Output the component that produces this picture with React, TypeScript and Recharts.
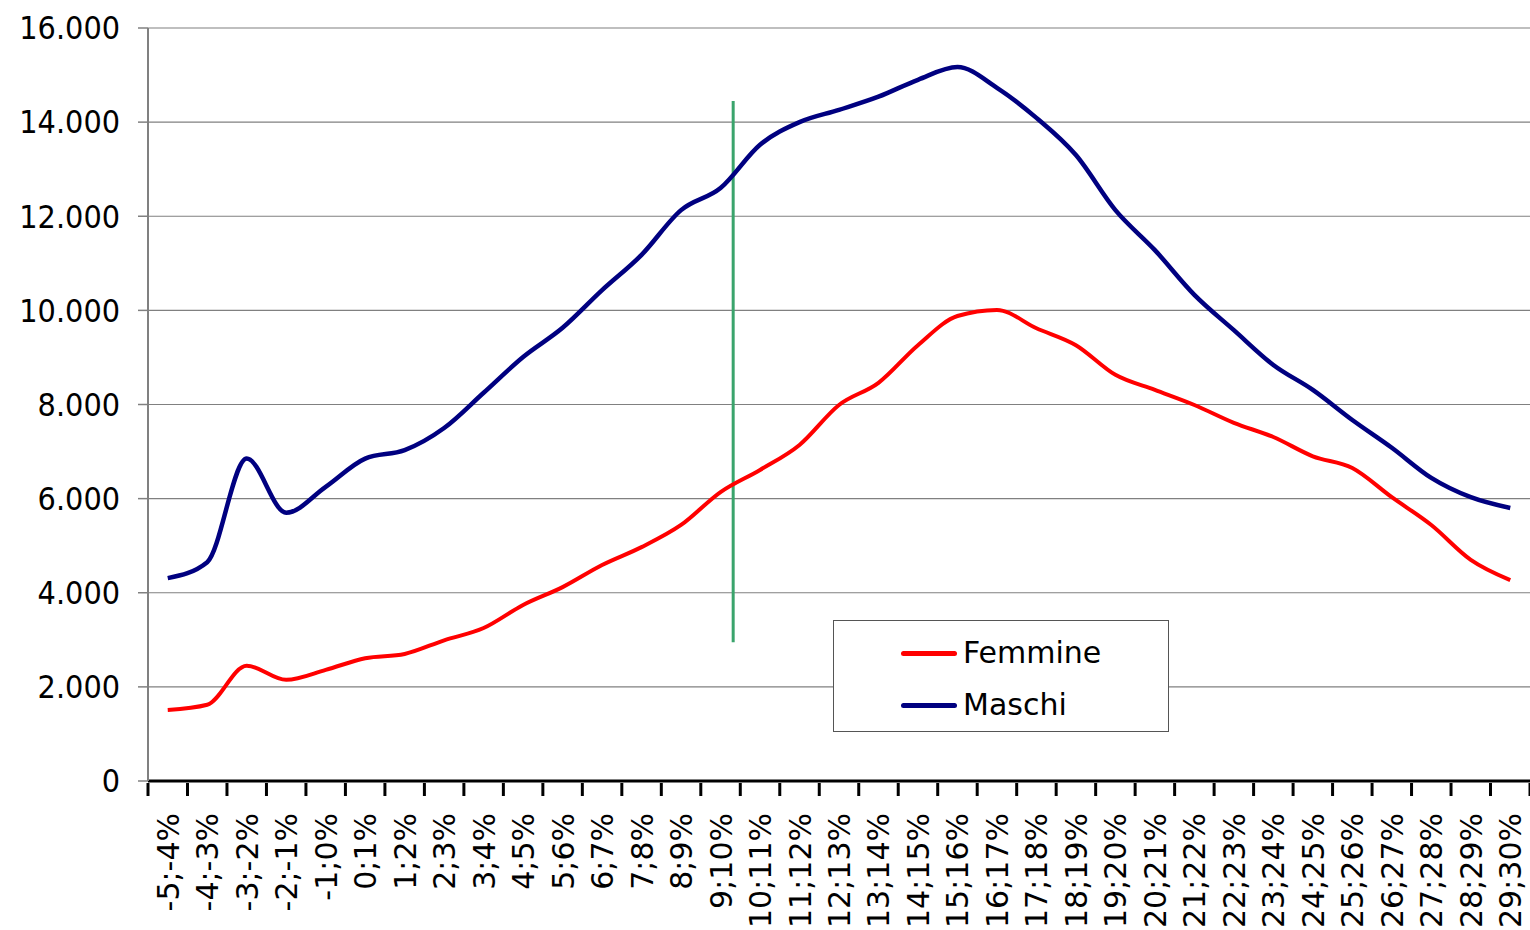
import {
  CartesianGrid,
  Legend,
  Line,
  LineChart,
  ReferenceLine,
  XAxis,
  YAxis,
} from "recharts";

const CATEGORIES = [
  "-5;-4%", "-4;-3%", "-3;-2%", "-2;-1%", "-1;0%", "0;1%", "1;2%", "2;3%",
  "3;4%", "4;5%", "5;6%", "6;7%", "7;8%", "8;9%", "9;10%", "10;11%",
  "11;12%", "12;13%", "13;14%", "14;15%", "15;16%", "16;17%", "17;18%",
  "18;19%", "19;20%", "20;21%", "21;22%", "22;23%", "23;24%", "24;25%",
  "25;26%", "26;27%", "27;28%", "28;29%", "29;30%",
];

const FEMMINE = [
  1510, 1620, 2450, 2150, 2360, 2610, 2700, 2990, 3250, 3740, 4120, 4590,
  4970, 5440, 6140, 6610, 7140, 7990, 8460, 9260, 9880, 10010, 9620, 9260,
  8630, 8310, 7990, 7610, 7310, 6900, 6650, 6030, 5440, 4700, 4270,
];

const MASCHI = [
  4310, 4650, 6850, 5700, 6250, 6850, 7030, 7500, 8250, 9010, 9630, 10430,
  11180, 12130, 12600, 13520, 14000, 14260, 14540, 14900, 15170, 14730,
  14090, 13300, 12130, 11280, 10330, 9580, 8840, 8310, 7670, 7080, 6440,
  6030, 5800,
];

const Y_TICKS = [0, 2000, 4000, 6000, 8000, 10000, 12000, 14000, 16000];

// green marker line: position on the category scale (0..35) and its y span
const MARKER_X = 14.82;
const MARKER_Y = [2950, 14450];

const FONT_Y = "'DejaVu Sans Condensed', 'DejaVu Sans', sans-serif";
const FONT = "'DejaVu Sans', sans-serif";
const FONT_SIZE = 32;
const PLOT_W = 1382;
const STEP = PLOT_W / CATEGORIES.length;

const data = CATEGORIES.map((cat, i) => ({
  cat,
  pos: i + 0.5,
  femmine: FEMMINE[i],
  maschi: MASCHI[i],
}));

function formatThousands(v: number): string {
  return String(v).replace(/\B(?=(\d{3})+(?!\d))/g, ".");
}

function CategoryTick(props: any) {
  const { x, y, payload, index } = props;
  const last = index === CATEGORIES.length - 1;
  return (
    <g>
      <line x1={x - STEP / 2} x2={x - STEP / 2} y1={y} y2={y + 13} stroke="#000" strokeWidth={3} />
      {last && (
        <line x1={x + STEP / 2} x2={x + STEP / 2} y1={y} y2={y + 13} stroke="#000" strokeWidth={3} />
      )}
      <text
        x={0}
        y={0}
        transform={`translate(${x + 11}, ${y + 30}) rotate(-90)`}
        textAnchor="end"
        fontFamily={FONT}
        fontSize={30}
        fill="#000"
      >
        {payload.value}
      </text>
    </g>
  );
}

function LegendBox() {
  const items = [
    { name: "Femmine", color: "#ff0000" },
    { name: "Maschi", color: "#000080" },
  ];
  return (
    <div
      style={{
        width: 336,
        height: 112,
        border: "1px solid #555",
        background: "#fff",
        boxSizing: "border-box",
        paddingTop: 6,
        fontFamily: FONT,
        fontSize: 30,
        lineHeight: 1,
      }}
    >
      {items.map((it) => (
        <div key={it.name} style={{ display: "flex", alignItems: "center", height: 52, paddingLeft: 67 }}>
          <span
            style={{
              display: "inline-block",
              width: 56,
              height: 5,
              borderRadius: 3,
              background: it.color,
              marginRight: 6,
            }}
          />
          <span>{it.name}</span>
        </div>
      ))}
    </div>
  );
}

export default function App() {
  return (
    <div style={{ width: 1530, height: 930, background: "#fff" }}>
      <style>{"body{margin:0}"}</style>
      <LineChart
        width={1530}
        height={930}
        data={data}
        margin={{ top: 28, right: 0, left: 0, bottom: 0 }}
      >
        <CartesianGrid vertical={false} stroke="#808080" strokeWidth={1.2} />
        <XAxis
          dataKey="cat"
          interval={0}
          height={149}
          tickSize={0}
          tickLine={false}
          padding={{ left: STEP / 2, right: STEP / 2 }}
          axisLine={{ stroke: "#000", strokeWidth: 3 }}
          tick={<CategoryTick />}
        />
        <XAxis
          xAxisId="num"
          dataKey="pos"
          type="number"
          domain={[0, CATEGORIES.length]}
          allowDataOverflow
          hide
        />
        <YAxis
          type="number"
          domain={[0, 16000]}
          ticks={Y_TICKS}
          width={148}
          interval={0}
          tickSize={10}
          tickMargin={18}
          tickFormatter={formatThousands}
          axisLine={{ stroke: "#808080", strokeWidth: 2 }}
          tickLine={{ stroke: "#808080", strokeWidth: 1.5 }}
          tick={{ fill: "#000", fontFamily: FONT_Y, fontSize: FONT_SIZE }}
        />
        <ReferenceLine
          xAxisId="num"
          segment={[
            { x: MARKER_X, y: MARKER_Y[0] },
            { x: MARKER_X, y: MARKER_Y[1] },
          ]}
          stroke="#3aa46c"
          strokeWidth={3}
        />
        <Line
          type="monotone"
          dataKey="femmine"
          name="Femmine"
          stroke="#ff0000"
          strokeWidth={4}
          dot={false}
          isAnimationActive={false}
        />
        <Line
          type="monotone"
          dataKey="maschi"
          name="Maschi"
          stroke="#000080"
          strokeWidth={4.5}
          dot={false}
          isAnimationActive={false}
        />
        <Legend
          layout="horizontal"
          verticalAlign="middle"
          align="center"
          content={<LegendBox />}
          wrapperStyle={{ left: 833, top: 620, width: 336, height: 112 }}
        />
      </LineChart>
    </div>
  );
}
